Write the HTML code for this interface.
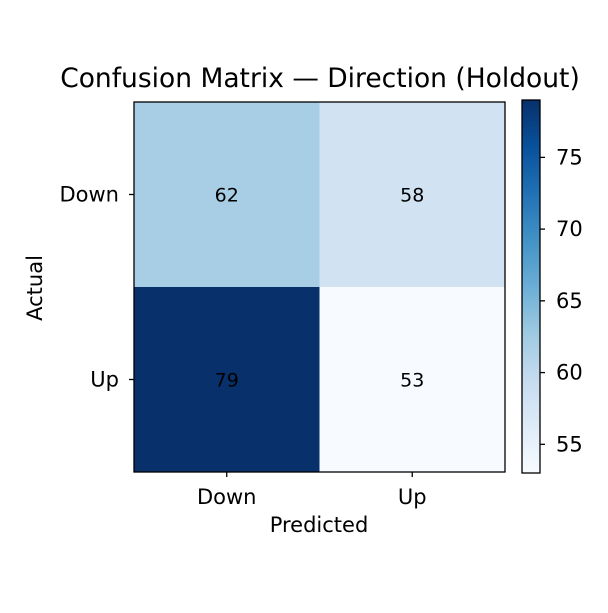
<!DOCTYPE html>
<html><head><meta charset="utf-8"><style>
body{margin:0;background:#fff}
svg text{font-family:"DejaVu Sans","Liberation Sans",sans-serif;fill:#000}
</style></head><body>
<svg width="608" height="608" viewBox="0 0 608 608">
<defs><linearGradient id="cg" x1="0" y1="1" x2="0" y2="0">
<stop offset="0" stop-color="#f7fbff"/><stop offset="0.125" stop-color="#deebf7"/><stop offset="0.25" stop-color="#c6dbef"/><stop offset="0.375" stop-color="#9ecae1"/><stop offset="0.5" stop-color="#6baed6"/><stop offset="0.625" stop-color="#4292c6"/><stop offset="0.75" stop-color="#2171b5"/><stop offset="0.875" stop-color="#08519c"/><stop offset="1" stop-color="#08306b"/>
</linearGradient></defs>
<text x="320" y="87" font-size="26.5" text-anchor="middle">Confusion Matrix — Direction (Holdout)</text>
<g id="cells"></g>
<rect x="134" y="102" width="371" height="370" fill="none" stroke="#000" stroke-width="1.3"/>
<g id="axes"></g>
<text x="319" y="532" font-size="21" text-anchor="middle">Predicted</text>
<text transform="translate(42,288) rotate(-90)" font-size="21" text-anchor="middle">Actual</text>
<rect x="522" y="100" width="18" height="373" fill="url(#cg)" stroke="#000" stroke-width="1.3"/>
<g id="cbticks"></g>
</svg>
<script>
const categories=["Down","Up"];
const matrix=[[62,58],[79,53]];
const cbTicks=[55,60,65,70,75];
const vmin=53, vmax=79;
const stops=[[247,251,255],[222,235,247],[198,219,239],[158,202,225],[107,174,214],[66,146,198],[33,113,181],[8,81,156],[8,48,107]];
function cmap(v){let t=(v-vmin)/(vmax-vmin);t=Math.max(0,Math.min(1,t))*8;const i=Math.min(7,Math.floor(t)),f=t-i;const a=stops[i],b=stops[i+1];return `rgb(${a.map((c,k)=>Math.round(c+(b[k]-c)*f)).join(',')})`;}
const NS="http://www.w3.org/2000/svg";
const X0=134,Y0=102,W=371,H=370;
const cw=W/categories.length, ch=H/categories.length;
function mk(t,attrs,parent){const e=document.createElementNS(NS,t);for(const k in attrs)e.setAttribute(k,attrs[k]);parent.appendChild(e);return e;}
const cells=document.getElementById('cells'), axes=document.getElementById('axes'), cb=document.getElementById('cbticks');
matrix.forEach((row,r)=>row.forEach((v,c)=>{
 const rc=mk('rect',{x:X0+c*cw,y:Y0+r*ch,width:cw+0.5,height:ch+0.5,fill:cmap(v)},cells);
 
 
 const tx=mk('text',{x:X0+(c+0.5)*cw,y:Y0+(r+0.5)*ch+7,'font-size':'19','text-anchor':'middle'},cells);
 tx.textContent=v;
 
 
}));
categories.forEach((cat,i)=>{
 const x=X0+(i+0.5)*cw;
 mk('line',{x1:x,x2:x,y1:Y0+H,y2:Y0+H+5,stroke:'#000','stroke-width':1.3},axes);
 const t=mk('text',{x:x,y:Y0+H+32,'font-size':'21','text-anchor':'middle'},axes);t.textContent=cat;
 
 
 const y=Y0+(i+0.5)*ch;
 mk('line',{x1:X0-5,x2:X0,y1:y,y2:y,stroke:'#000','stroke-width':1.3},axes);
 const u=mk('text',{x:X0-15,y:y+7,'font-size':'21','text-anchor':'end'},axes);u.textContent=cat;
 
 
});
const CB0=100,CBH=373;
cbTicks.forEach(v=>{
 const y=CB0+CBH-(v-vmin)/(vmax-vmin)*CBH;
 mk('line',{x1:540,x2:545,y1:y,y2:y,stroke:'#000','stroke-width':1.3},cb);
 const t=mk('text',{x:556,y:y+7,'font-size':'21'},cb);t.textContent=v;
 
 
});
</script>
</body></html>
